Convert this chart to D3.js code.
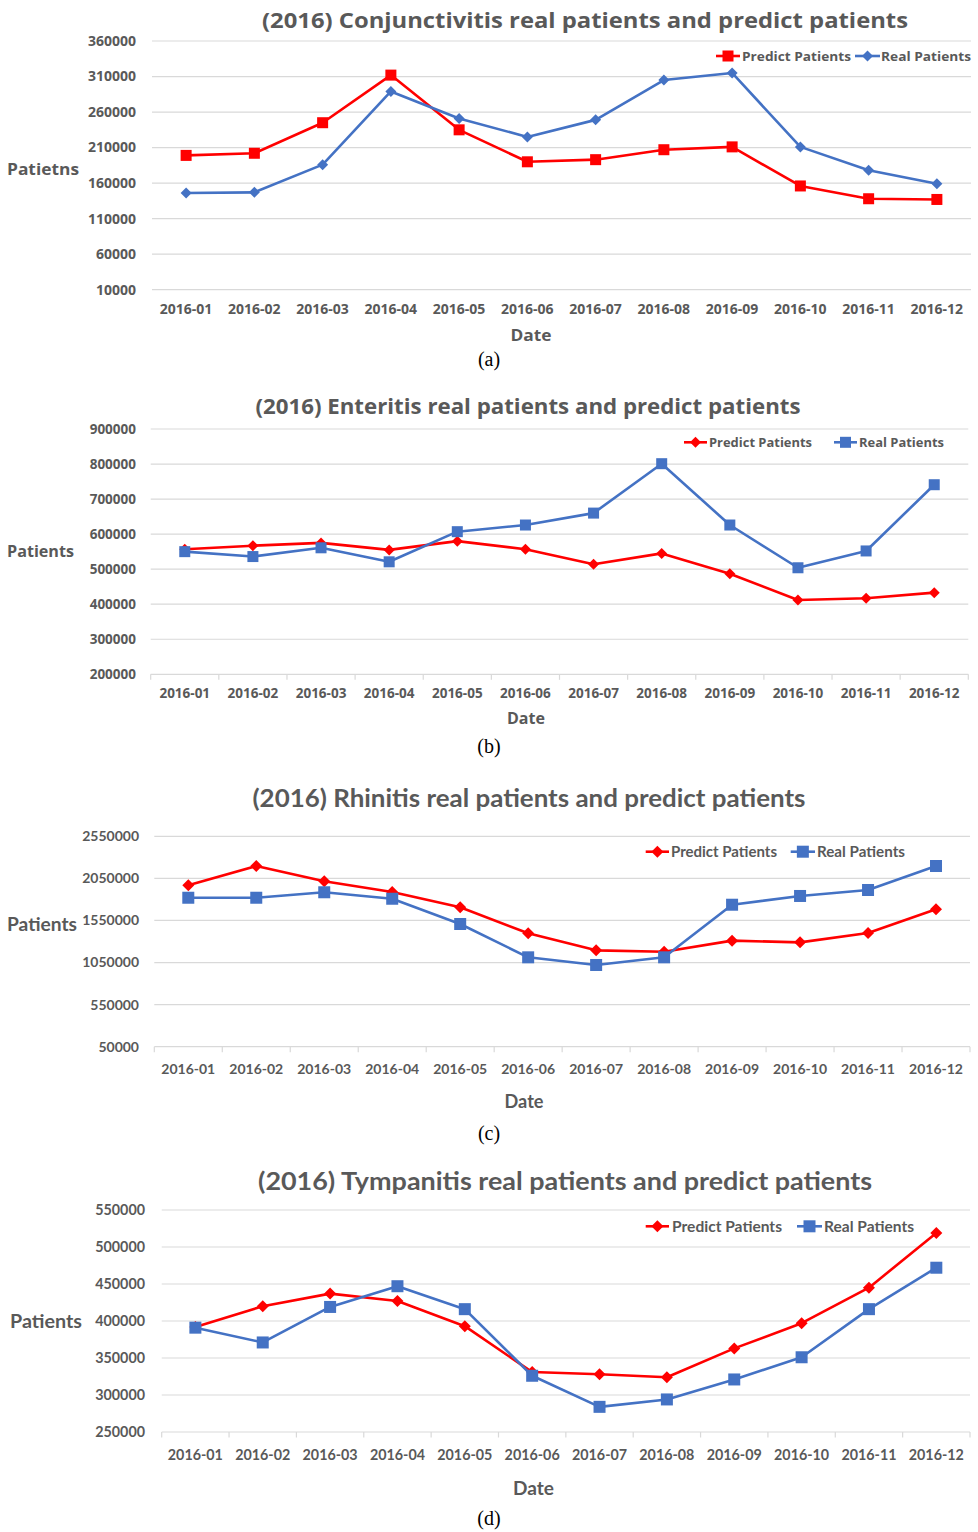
<!DOCTYPE html>
<html><head><meta charset="utf-8">
<script src="https://cdn.jsdelivr.net/npm/d3@7"></script>
<style>body{margin:0;background:#fff}</style>
</head><body>
<svg id="c" width="978" height="1532"></svg>
<script>
const months = ["2016-01","2016-02","2016-03","2016-04","2016-05","2016-06","2016-07","2016-08","2016-09","2016-10","2016-11","2016-12"];

const conjPredict = [199000,202000,245000,312000,235000,190000,193000,207000,211000,156000,138000,137000];
const conjReal    = [146000,147000,186000,289000,251000,225000,249000,305000,315000,211000,178000,159000];
const conjTicks   = [10000,60000,110000,160000,210000,260000,310000,360000];

const entPredict = [557000,567000,575000,555000,580000,557000,514000,545000,487000,412000,417000,433000];
const entReal    = [550000,536000,561000,521000,607000,626000,660000,801000,626000,504000,552000,741000];
const entTicks   = [200000,300000,400000,500000,600000,700000,800000,900000];

const rhiPredict = [1968000,2197000,2015000,1888000,1706000,1397000,1195000,1179000,1310000,1290000,1401000,1683000];
const rhiReal    = [1820000,1820000,1885000,1808000,1508000,1112000,1021000,1112000,1737000,1841000,1912000,2197000];
const rhiTicks   = [50000,550000,1050000,1550000,2050000,2550000];

const tymPredict = [392000,420000,437000,427000,393000,331000,328000,324000,363000,397000,445000,519000];
const tymReal    = [391000,371000,419000,447000,416000,326000,284000,294000,321000,351000,416000,472000];
const tymTicks   = [250000,300000,350000,400000,450000,500000,550000];

const titles = [
  "(2016) Conjunctivitis real patients and predict patients",
  "(2016) Enteritis real patients and predict patients",
  "(2016) Rhinitis real patients and predict patients",
  "(2016) Tympanitis real patients and predict patients"
];
const yTitles = ["Patietns","Patients","Patients","Patients"];
const xTitle = "Date";
const captions = ["(a)","(b)","(c)","(d)"];
const legendNames = ["Predict Patients","Real Patients"];

const RED = "#FF0000", BLUE = "#4472C4", GRID = "#D9D9D9", TXT = "#595959";
const svg = d3.select("#c");

const panels = [
  {pred:conjPredict, real:conjReal, ticks:conjTicks, font:"'Open Sans'", tickSize:14,
   left:152, right:971, top:41, bottom:289.7, xTicks:false, tickX:136, catY:309,
   title:{x:585,y:20,w:646,size:22}, yt:{x:7,y:169,w:72,size:16}, xt:{x:531,y:335,w:41,size:16},
   cap:{x:489,y:359},
   predShape:"square", realShape:"diamond", sq:11, dr:5.5,
   leg:{y:56, p:[716,740,742,109], r:[855,880,881,90], size:13}},
  {pred:entPredict, real:entReal, ticks:entTicks, font:"'Open Sans'", tickSize:13.5,
   left:150.7, right:968.3, top:429, bottom:674.3, xTicks:true, tickX:136, catY:693,
   title:{x:528,y:406,w:545,size:22}, yt:{x:7,y:551,w:67,size:16}, xt:{x:526,y:718,w:38,size:16},
   cap:{x:489,y:746},
   predShape:"diamond", realShape:"square", sq:11, dr:5.5,
   leg:{y:442.3, p:[684,707,709,103], r:[834,857,859,85], size:13}},
  {pred:rhiPredict, real:rhiReal, ticks:rhiTicks, font:"Lato", tickSize:14,
   left:154.3, right:970, top:836.3, bottom:1046.7, xTicks:true, tickX:139, catY:1069.3,
   title:{x:529,y:798,w:553,size:25}, yt:{x:7,y:925,w:70,size:18}, xt:{x:524,y:1102,w:39,size:18},
   cap:{x:489,y:1133},
   predShape:"diamond", realShape:"square", sq:12, dr:6,
   leg:{y:851.7, p:[645.7,669,671,106], r:[790.7,815,817,88], size:15}},
  {pred:tymPredict, real:tymReal, ticks:tymTicks, font:"Lato", tickSize:14.3,
   left:161.7, right:970, top:1210, bottom:1432, xTicks:true, tickX:145, catY:1455.3,
   title:{x:565,y:1181,w:614,size:25}, yt:{x:10,y:1322,w:72,size:18}, xt:{x:533.5,y:1489,w:41,size:18},
   cap:{x:489,y:1518},
   predShape:"diamond", realShape:"square", sq:12, dr:6,
   leg:{y:1226.3, p:[645.7,669,672,110], r:[797,822,824,90], size:15}}
];

function marker(g, shape, cx, cy, color, sq, dr){
  if(shape==="square"){
    g.append("rect").attr("x",cx-sq/2).attr("y",cy-sq/2).attr("width",sq).attr("height",sq).attr("fill",color);
  } else {
    g.append("path").attr("d",`M${cx},${cy-dr}L${cx+dr},${cy}L${cx},${cy+dr}L${cx-dr},${cy}Z`).attr("fill",color);
  }
}

panels.forEach((p,i)=>{
  const g = svg.append("g");
  const x = d3.scaleBand().domain(months).range([p.left,p.right]);
  const y = d3.scaleLinear().domain([p.ticks[0], p.ticks[p.ticks.length-1]]).range([p.bottom,p.top]);
  const cx = m => x(m)+x.bandwidth()/2;

  g.selectAll(".grid").data(p.ticks).join("line")
    .attr("x1",p.left).attr("x2",p.right).attr("y1",d=>y(d)).attr("y2",d=>y(d))
    .attr("stroke",GRID).attr("stroke-width",1.2);
  g.selectAll(".yl").data(p.ticks).join("text")
    .attr("x",p.tickX).attr("y",d=>y(d)).attr("dy","0.35em").attr("text-anchor","end")
    .attr("font-family",p.font).attr("font-weight","bold").attr("font-size",p.tickSize).attr("fill",TXT)
    .text(d=>d);
  if(p.xTicks){
    const bounds = months.map(m=>x(m)).concat([p.right]);
    g.selectAll(".xt").data(bounds).join("line")
      .attr("x1",d=>d).attr("x2",d=>d).attr("y1",p.bottom).attr("y2",p.bottom+5.5)
      .attr("stroke",GRID).attr("stroke-width",1.2);
  }
  g.selectAll(".xl").data(months).join("text")
    .attr("x",d=>cx(d)).attr("y",p.catY).attr("dy","0.35em").attr("text-anchor","middle")
    .attr("font-family",p.font).attr("font-weight","bold").attr("font-size",p.tickSize).attr("fill",TXT)
    .text(d=>d);

  g.append("text").attr("x",p.title.x).attr("y",p.title.y).attr("dy","0.35em").attr("text-anchor","middle")
    .attr("font-family",p.font).attr("font-weight","bold").attr("font-size",p.title.size).attr("fill",TXT)
    .attr("textLength",p.title.w).attr("lengthAdjust","spacingAndGlyphs").text(titles[i]);
  g.append("text").attr("x",p.yt.x).attr("y",p.yt.y).attr("dy","0.35em")
    .attr("font-family",p.font).attr("font-weight","bold").attr("font-size",p.yt.size).attr("fill",TXT)
    .attr("textLength",p.yt.w).attr("lengthAdjust","spacingAndGlyphs").text(yTitles[i]);
  g.append("text").attr("x",p.xt.x).attr("y",p.xt.y).attr("dy","0.35em").attr("text-anchor","middle")
    .attr("font-family",p.font).attr("font-weight","bold").attr("font-size",p.xt.size).attr("fill",TXT)
    .attr("textLength",p.xt.w).attr("lengthAdjust","spacingAndGlyphs").text(xTitle);
  g.append("text").attr("x",p.cap.x).attr("y",p.cap.y).attr("dy","0.35em").attr("text-anchor","middle")
    .attr("font-family","'Liberation Serif','DejaVu Serif',serif").attr("font-size",20).attr("fill","#000")
    .text(captions[i]);

  const line = d3.line().x((d,j)=>cx(months[j])).y(d=>y(d));
  [[p.pred,RED,p.predShape],[p.real,BLUE,p.realShape]].forEach(([vals,col,shape])=>{
    g.append("path").datum(vals).attr("d",line).attr("fill","none").attr("stroke",col).attr("stroke-width",2.6).attr("stroke-linejoin","round");
    vals.forEach((v,j)=>marker(g,shape,cx(months[j]),y(v),col,p.sq,p.dr));
  });

  const L = p.leg;
  [[L.p,RED,p.predShape,legendNames[0]],[L.r,BLUE,p.realShape,legendNames[1]]].forEach(([a,col,shape,name])=>{
    g.append("line").attr("x1",a[0]).attr("x2",a[1]).attr("y1",L.y).attr("y2",L.y).attr("stroke",col).attr("stroke-width",2.6);
    marker(g,shape,(a[0]+a[1])/2,L.y,col,p.sq,p.dr);
    g.append("text").attr("x",a[2]).attr("y",L.y).attr("dy","0.35em")
      .attr("font-family",p.font).attr("font-weight","bold").attr("font-size",L.size).attr("fill",TXT)
      .attr("textLength",a[3]).attr("lengthAdjust","spacingAndGlyphs").text(name);
  });
});
</script>
</body></html>
